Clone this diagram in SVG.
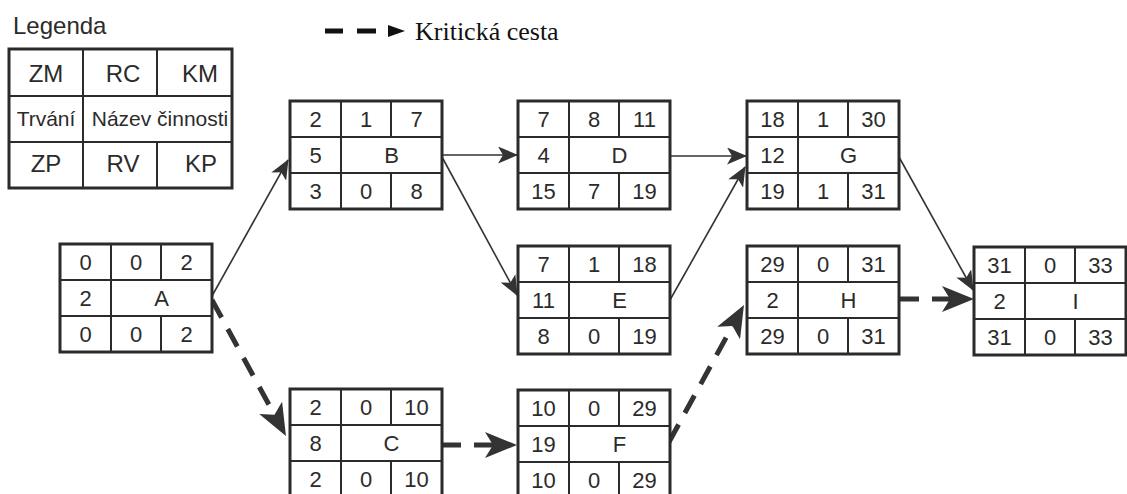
<svg xmlns="http://www.w3.org/2000/svg" width="1127" height="494" viewBox="0 0 1127 494">
  <style>
    .box{fill:#fff;stroke:#2b2b2b;stroke-width:3}
    .div{stroke:#2b2b2b;stroke-width:2;fill:none}
    .t{font-family:"Liberation Sans",Arial,sans-serif;font-size:22px;fill:#2b2b2b;text-anchor:middle}
    .tl{font-family:"Liberation Sans",Arial,sans-serif;font-size:24px;fill:#2b2b2b;text-anchor:middle}
    .ts{font-family:"Liberation Sans",Arial,sans-serif;font-size:21px;fill:#2b2b2b;text-anchor:middle}
    .thin{stroke:#333;stroke-width:1.6;fill:none;marker-end:url(#headThin)}
    .crit{stroke:#333;stroke-width:5;fill:none;stroke-dasharray:20 13;marker-end:url(#headCrit)}
  </style>
  <defs>
    <marker id="headThin" markerUnits="userSpaceOnUse" viewBox="0 0 20 17" refX="19" refY="8.5" markerWidth="20" markerHeight="17" orient="auto">
      <path d="M0,0 L20,8.5 L0,17 L5,8.5 Z" fill="#333"/>
    </marker>
    <marker id="headCrit" markerUnits="userSpaceOnUse" viewBox="0 0 32 26" refX="16" refY="13" markerWidth="32" markerHeight="26" orient="auto">
      <path d="M0,0 L32,13 L0,26 L8,13 Z" fill="#333"/>
    </marker>
    <g id="grid">
      <rect class="box" x="0" y="0" width="152" height="108"/>
      <path class="div" d="M0,36 H152 M0,72 H152 M51,0 V108 M101,0 V36 M101,72 V108"/>
    </g>
  </defs>
  <rect width="1127" height="494" fill="#fff"/>

  <g id="legend">
    <text x="13" y="34" font-family="Liberation Sans,Arial,sans-serif" font-size="24" fill="#2b2b2b">Legenda</text>
    <rect class="box" x="9" y="49" width="223" height="139"/>
    <path class="div" d="M9,96 H232 M9,142 H232 M83,49 V188 M157,49 V96 M157,142 V188"/>
    <text class="tl" x="46" y="82">ZM</text>
    <text class="tl" x="123" y="82">RC</text>
    <text class="tl" x="200" y="82">KM</text>
    <text class="ts" x="46" y="126">Trvání</text>
    <text class="ts" x="160" y="126">Název činnosti</text>
    <text class="tl" x="46" y="172">ZP</text>
    <text class="tl" x="123" y="172">RV</text>
    <text class="tl" x="201" y="172">KP</text>
  </g>

  <g id="legend-critical">
    <path d="M325,31 H343 M357,31 H376" stroke="#111" stroke-width="5"/>
    <path d="M388,25 L405,31 L388,37 Z" fill="#111"/>
    <text x="415" y="40" font-family="Liberation Serif,Times New Roman,serif" font-size="26" fill="#111">Kritická cesta</text>
  </g>

  <g id="connectors">
    <path class="thin" d="M212,296 L288,160"/>
    <path class="thin" d="M442,155 L517,155"/>
    <path class="thin" d="M442,157 L517,295"/>
    <path class="thin" d="M670,156 L746,156"/>
    <path class="thin" d="M670,300 L745,167"/>
    <path class="thin" d="M899,157 L973,290"/>
    <path class="crit" d="M212,300 L278.3,421.9"/>
    <path class="crit" d="M441,445 L501,445"/>
    <path class="crit" d="M669,442 L736.3,319"/>
    <path class="crit" d="M899,299 L958,299"/>
  </g>

  <g id="node-A" transform="translate(60,244)">
    <use href="#grid"/>
    <text class="t" x="25.5" y="26">0</text><text class="t" x="76" y="26">0</text><text class="t" x="126.5" y="26">2</text>
    <text class="t" x="25.5" y="62">2</text><text class="t" x="101.5" y="62">A</text>
    <text class="t" x="25.5" y="98">0</text><text class="t" x="76" y="98">0</text><text class="t" x="126.5" y="98">2</text>
  </g>
  <g id="node-B" transform="translate(290,101)">
    <use href="#grid"/>
    <text class="t" x="25.5" y="26">2</text><text class="t" x="76" y="26">1</text><text class="t" x="126.5" y="26">7</text>
    <text class="t" x="25.5" y="62">5</text><text class="t" x="101.5" y="62">B</text>
    <text class="t" x="25.5" y="98">3</text><text class="t" x="76" y="98">0</text><text class="t" x="126.5" y="98">8</text>
  </g>
  <g id="node-C" transform="translate(290,389)">
    <use href="#grid"/>
    <text class="t" x="25.5" y="26">2</text><text class="t" x="76" y="26">0</text><text class="t" x="126.5" y="26">10</text>
    <text class="t" x="25.5" y="62">8</text><text class="t" x="101.5" y="62">C</text>
    <text class="t" x="25.5" y="98">2</text><text class="t" x="76" y="98">0</text><text class="t" x="126.5" y="98">10</text>
  </g>
  <g id="node-D" transform="translate(518,101)">
    <use href="#grid"/>
    <text class="t" x="25.5" y="26">7</text><text class="t" x="76" y="26">8</text><text class="t" x="126.5" y="26">11</text>
    <text class="t" x="25.5" y="62">4</text><text class="t" x="101.5" y="62">D</text>
    <text class="t" x="25.5" y="98">15</text><text class="t" x="76" y="98">7</text><text class="t" x="126.5" y="98">19</text>
  </g>
  <g id="node-E" transform="translate(518,246)">
    <use href="#grid"/>
    <text class="t" x="25.5" y="26">7</text><text class="t" x="76" y="26">1</text><text class="t" x="126.5" y="26">18</text>
    <text class="t" x="25.5" y="62">11</text><text class="t" x="101.5" y="62">E</text>
    <text class="t" x="25.5" y="98">8</text><text class="t" x="76" y="98">0</text><text class="t" x="126.5" y="98">19</text>
  </g>
  <g id="node-F" transform="translate(518,390)">
    <use href="#grid"/>
    <text class="t" x="25.5" y="26">10</text><text class="t" x="76" y="26">0</text><text class="t" x="126.5" y="26">29</text>
    <text class="t" x="25.5" y="62">19</text><text class="t" x="101.5" y="62">F</text>
    <text class="t" x="25.5" y="98">10</text><text class="t" x="76" y="98">0</text><text class="t" x="126.5" y="98">29</text>
  </g>
  <g id="node-G" transform="translate(747,101)">
    <use href="#grid"/>
    <text class="t" x="25.5" y="26">18</text><text class="t" x="76" y="26">1</text><text class="t" x="126.5" y="26">30</text>
    <text class="t" x="25.5" y="62">12</text><text class="t" x="101.5" y="62">G</text>
    <text class="t" x="25.5" y="98">19</text><text class="t" x="76" y="98">1</text><text class="t" x="126.5" y="98">31</text>
  </g>
  <g id="node-H" transform="translate(747,246)">
    <use href="#grid"/>
    <text class="t" x="25.5" y="26">29</text><text class="t" x="76" y="26">0</text><text class="t" x="126.5" y="26">31</text>
    <text class="t" x="25.5" y="62">2</text><text class="t" x="101.5" y="62">H</text>
    <text class="t" x="25.5" y="98">29</text><text class="t" x="76" y="98">0</text><text class="t" x="126.5" y="98">31</text>
  </g>
  <g id="node-I" transform="translate(974,247)">
    <use href="#grid"/>
    <text class="t" x="25.5" y="26">31</text><text class="t" x="76" y="26">0</text><text class="t" x="126.5" y="26">33</text>
    <text class="t" x="25.5" y="62">2</text><text class="t" x="101.5" y="62">I</text>
    <text class="t" x="25.5" y="98">31</text><text class="t" x="76" y="98">0</text><text class="t" x="126.5" y="98">33</text>
  </g>
</svg>
